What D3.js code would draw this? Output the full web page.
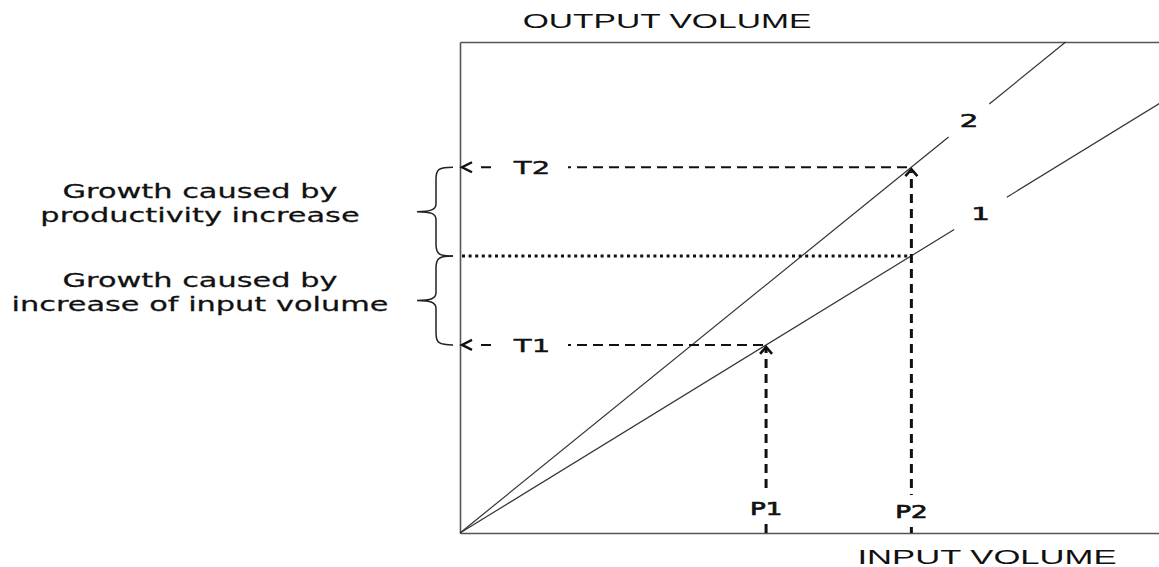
<!DOCTYPE html>
<html>
<head>
<meta charset="utf-8">
<script src="https://cdn.jsdelivr.net/npm/d3@7"></script>
<style>
  body { margin: 0; background: #fff; }
  svg { display: block; }
</style>
</head>
<body>
<div id="chart"></div>
<script>
// input levels on the x axis (0-100)
const inputNames = ["P1", "P2"];
const inputLevels = [43.6, 64.3];
// output levels marked on the y axis (0-100)
const outputNames = ["T1", "T2"];
const outputLevels = [38.3, 74.5];
const splitLevel = 56.4; // line 1 at P2 (dotted)
// productivity lines: output per unit input
const lineNames = ["1", "2"];
const lineSlopes = [0.878, 1.159];
const lineGaps = [[70.4, 77.9], [69.6, 75.4]]; // where each line breaks for its label
const braceTexts = [
    ["Growth caused by", "productivity increase"],
    ["Growth caused by", "increase of input volume"]
];
const xTitle = "INPUT VOLUME";
const yTitle = "OUTPUT VOLUME";

const width = 1159, height = 567;
const SX = 1.62; // the picture is stretched sideways

const svg = d3.select("#chart").append("svg")
    .attr("width", width)
    .attr("height", height);

const x = d3.scaleLinear().domain([0, 100]).range([460, 1162]);
const y = d3.scaleLinear().domain([0, 100]).range([533, 42]);

function label(cx, cy, str, size, family, sx, thick) {
    return svg.append("text")
        .attr("transform", `translate(${cx},${cy}) scale(${sx || SX},1)`)
        .attr("text-anchor", "middle")
        .style("font-family", family || "DejaVu Sans")
        .style("font-size", size + "px")
        .style("fill", "#111")
        .style("stroke", thick ? "#111" : "none")
        .style("stroke-width", thick || 0)
        .text(str);
}

// frame
svg.append("g").attr("transform", `translate(0,${y(0)})`)
    .call(d3.axisBottom(x).ticks(0).tickSizeOuter(0));
svg.append("g").attr("transform", `translate(${x(0)},0)`)
    .call(d3.axisLeft(y).ticks(0).tickSizeOuter(0));
svg.append("g").attr("transform", `translate(0,${y(100)})`)
    .call(d3.axisTop(x).ticks(0).tickSizeOuter(0));
svg.selectAll(".domain").attr("stroke", "#555").attr("stroke-width", 1.6);

// productivity lines, broken around their labels
const line = d3.line().x(d => x(d[0])).y(d => y(d[1]));
lineSlopes.forEach((k, i) => {
    const xEnd = Math.min(100, 100 / k);
    const gap = lineGaps[i];
    [[0, gap[0]], [gap[1], xEnd]].forEach(seg => {
        svg.append("path")
            .attr("d", line(seg.map(v => [v, v * k])))
            .attr("fill", "none")
            .attr("stroke", "#333")
            .attr("stroke-width", 1.2);
    });
    const mx = (gap[0] + gap[1]) / 2;
    label(x(mx), y(mx * k) + 7, lineNames[i], 18, null, null, 0.6);
});

// dotted split line
svg.append("line")
    .attr("x1", x(0) + 2).attr("x2", x(inputLevels[1]))
    .attr("y1", y(splitLevel)).attr("y2", y(splitLevel))
    .attr("stroke", "#111")
    .attr("stroke-width", 3)
    .attr("stroke-dasharray", "3,3.6");

// horizontal dashed lines to the y axis
outputLevels.forEach((t, i) => {
    const yy = y(t);
    const xe = x(inputLevels[i]);
    svg.append("line")
        .attr("x1", 481).attr("x2", xe)
        .attr("y1", yy).attr("y2", yy)
        .attr("stroke", "#111")
        .attr("stroke-width", 2)
        .attr("stroke-dasharray", "10,6");
    svg.append("path")
        .attr("d", `M${x(0) + 12},${yy - 5}L${x(0) + 2},${yy}L${x(0) + 12},${yy + 5}`)
        .attr("fill", "none")
        .attr("stroke", "#111")
        .attr("stroke-width", 2.4);
    svg.append("rect")
        .attr("x", 493).attr("y", yy - 12)
        .attr("width", 75).attr("height", 24)
        .attr("fill", "#fff");
    label(532, yy + 7, outputNames[i], 18, null, null, 0.4);
});

// vertical dashed lines up from the x axis
const pLabelY = [515, 518];
inputLevels.forEach((p, i) => {
    const xx = x(p);
    const tip = y(outputLevels[i]);
    svg.append("line")
        .attr("x1", xx).attr("x2", xx)
        .attr("y1", y(0)).attr("y2", tip + 4)
        .attr("stroke", "#111")
        .attr("stroke-width", 3)
        .attr("stroke-dasharray", "9,6");
    svg.append("path")
        .attr("d", `M${xx - 6},${tip + 9}L${xx},${tip + 2}L${xx + 6},${tip + 9}`)
        .attr("fill", "none")
        .attr("stroke", "#111")
        .attr("stroke-width", 2.6);
    svg.append("rect")
        .attr("x", xx - 22).attr("y", pLabelY[i] - 23)
        .attr("width", 44).attr("height", 32)
        .attr("fill", "#fff");
    label(xx, pLabelY[i], inputNames[i], 18, null, 1.45, 0.7);
});

// braces with their explanations
const braceLevels = [[outputLevels[1], splitLevel], [splitLevel, outputLevels[0]]];
braceLevels.forEach((b, i) => {
    const y1 = y(b[0]), y2 = y(b[1]), ym = (y1 + y2) / 2;
    const x0 = 453, xv = 436, xt = 417;
    svg.append("path")
        .attr("d", `M${x0},${y1}C${xv + 3},${y1} ${xv},${y1 + 2} ${xv},${y1 + 12}` +
            `L${xv},${ym - 8}C${xv},${ym - 2} ${xv - 5},${ym} ${xt},${ym}` +
            `C${xv - 5},${ym} ${xv},${ym + 2} ${xv},${ym + 8}` +
            `L${xv},${y2 - 12}C${xv},${y2 - 2} ${xv + 3},${y2} ${x0},${y2}`)
        .attr("fill", "none")
        .attr("stroke", "#222")
        .attr("stroke-width", 1.5);
    label(200, ym - 14, braceTexts[i][0], 19, "DejaVu Sans", 1.6, 0.25);
    label(200, ym + 10, braceTexts[i][1], 19, "DejaVu Sans", 1.6, 0.25);
});

// axis titles
label(667, 28, yTitle, 21, "Liberation Sans", 1.6);
label(987, 564, xTitle, 21, "Liberation Sans", 1.65);
</script>
</body>
</html>
